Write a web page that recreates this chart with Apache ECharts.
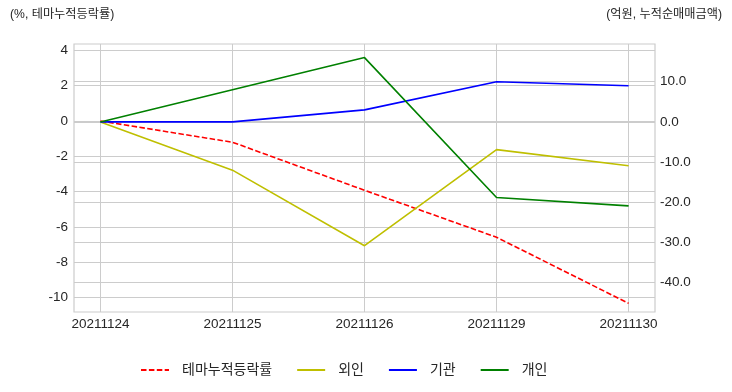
<!DOCTYPE html>
<html>
<head>
<meta charset="utf-8">
<script src="https://cdn.jsdelivr.net/npm/echarts@6/dist/echarts.min.js"></script>
<style>html,body{margin:0;padding:0;background:#fff}#c{width:732px;height:392px}</style>
</head>
<body>
<div id="c"></div>
<script>
var categories = ['20211124', '20211125', '20211126', '20211129', '20211130'];
var themeReturn = [0, -1.2, -3.92, -6.58, -10.32];
var foreign = [0, -12.0, -30.8, -6.9, -10.9];
var institution = [0, 0, 3.0, 10.0, 9.0];
var individual = [0, 8.0, 16.0, -18.8, -20.9];
var leftTicks = [-10, -8, -6, -4, -2, 0, 2, 4];
var rightTicks = [-40, -30, -20, -10, 0, 10];
var seriesNames = ['테마누적등락률', '외인', '기관', '개인'];

var FONT = '"Liberation Sans", "Noto Sans CJK KR", sans-serif';
var TXT = '#262626';
var GRID = '#cccccc';

function pairs(arr) { return arr.map(function (v, i) { return [i, v]; }); }

var chart = echarts.init(document.getElementById('c'), null, { renderer: 'canvas' });
chart.setOption({
  animation: false,
  backgroundColor: '#ffffff',
  textStyle: { fontFamily: FONT },
  graphic: [
    { type: 'text', left: 10, top: 9, style: { text: '(%, 테마누적등락률)', font: '12.2px ' + FONT, fill: TXT } },
    { type: 'text', right: 10, top: 9, style: { text: '(억원, 누적순매매금액)', font: '12.2px ' + FONT, fill: TXT } }
  ],
  grid: { left: 74, right: 77, top: 44, bottom: 80, show: true, borderColor: GRID, borderWidth: 1.2, backgroundColor: 'transparent' },
  legend: {
    bottom: 10, left: 135,
    itemWidth: 28, itemHeight: 10, itemGap: 24,
    itemStyle: { opacity: 0 },
    textStyle: { fontSize: 14, color: TXT, fontFamily: FONT, padding: [0, 0, 0, 8] },
    data: seriesNames
  },
  xAxis: {
    type: 'value', min: -0.2, max: 4.2,
    axisLine: { show: false },
    axisTick: { show: false, customValues: [0, 1, 2, 3, 4] },
    splitLine: { show: true, lineStyle: { color: GRID, width: 1 } },
    axisLabel: {
      customValues: [0, 1, 2, 3, 4],
      color: TXT, fontSize: 13.5, fontFamily: FONT, margin: 6,
      formatter: function (v) { return categories[Math.round(v)]; }
    }
  },
  yAxis: [
    {
      type: 'value', min: -10.81, max: 4.36, position: 'left',
      axisLine: { show: false },
      axisTick: { show: false, customValues: leftTicks },
      splitLine: { show: true, lineStyle: { color: GRID, width: 1 } },
      axisLabel: { customValues: leftTicks, color: TXT, fontSize: 13.5, fontFamily: FONT, margin: 6 }
    },
    {
      type: 'value', min: -47.29, max: 19.38, position: 'right',
      axisLine: { show: false },
      axisTick: { show: false, customValues: rightTicks },
      splitLine: { show: true, lineStyle: { color: GRID, width: 1 } },
      axisLabel: { customValues: rightTicks, color: TXT, fontSize: 13.5, fontFamily: FONT, margin: 5,
        formatter: function (v) { return v.toFixed(1); } }
    }
  ],
  series: [
    { name: seriesNames[0], type: 'line', yAxisIndex: 0, data: pairs(themeReturn), symbol: 'none', color: '#ff0000',
      lineStyle: { color: '#ff0000', width: 1.6, type: [5.5, 2.4] } },
    { name: seriesNames[1], type: 'line', yAxisIndex: 1, data: pairs(foreign), symbol: 'none', color: '#bfbf00',
      lineStyle: { color: '#bfbf00', width: 1.6 } },
    { name: seriesNames[2], type: 'line', yAxisIndex: 1, data: pairs(institution), symbol: 'none', color: '#0000ff',
      lineStyle: { color: '#0000ff', width: 1.6 } },
    { name: seriesNames[3], type: 'line', yAxisIndex: 1, data: pairs(individual), symbol: 'none', color: '#008000',
      lineStyle: { color: '#008000', width: 1.6 } }
  ]
});
</script>
</body>
</html>
